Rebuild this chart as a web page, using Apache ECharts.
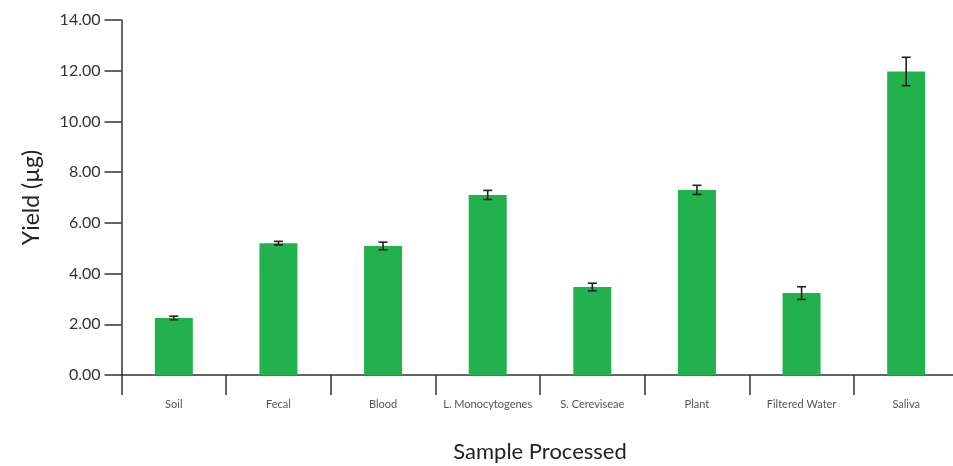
<!DOCTYPE html>
<html><head><meta charset="utf-8">
<script src="https://cdn.jsdelivr.net/npm/echarts@6/dist/echarts.min.js"></script>
<style>html,body{margin:0;padding:0;background:#fff}#c{width:953px;height:466px}</style>
</head><body><div id="c"></div>
<script>
const categories = ['Soil','Fecal','Blood','L. Monocytogenes','S. Cereviseae','Plant','Filtered Water','Saliva'];
const yieldValues = [2.25, 5.20, 5.09, 7.10, 3.47, 7.30, 3.23, 11.97];
const errorValues = [0.07, 0.07, 0.15, 0.18, 0.15, 0.18, 0.25, 0.56];
const yTicks = [0, 2, 4, 6, 8, 10, 12, 14];

const errData = categories.map((c, i) => [i, yieldValues[i] - errorValues[i], yieldValues[i] + errorValues[i]]);
const chart = echarts.init(document.getElementById('c'));
const font = 'Lato, "Noto Sans", sans-serif';
chart.setOption({
  animation: false,
  grid: { left: 121.5, width: 837, top: 20, height: 355, outerBoundsMode: 'none', containLabel: false },
  xAxis: {
    type: 'category', data: categories,
    name: 'Sample Processed', nameLocation: 'middle', nameGap: 66,
    nameTextStyle: { fontSize: 22, color: '#222', fontFamily: font },
    axisLine: { lineStyle: { color: '#333', width: 1.5 } },
    axisTick: { show: true, length: 20, alignWithLabel: false, lineStyle: { color: '#333', width: 1.5 } },
    axisLabel: { fontSize: 11, color: '#555', margin: 24, fontFamily: font, interval: 0 }
  },
  yAxis: {
    type: 'value', min: yTicks[0], max: yTicks[yTicks.length - 1], interval: 2,
    name: 'Yield (µg)', nameLocation: 'middle', nameGap: 78,
    nameTextStyle: { fontSize: 23, color: '#222', fontFamily: font },
    axisLine: { show: true, lineStyle: { color: '#333', width: 1.5 } },
    axisTick: { show: true, length: 17, lineStyle: { color: '#333', width: 1.5 } },
    splitLine: { show: false },
    axisLabel: { fontSize: 16, color: '#333', margin: 21, fontFamily: font, formatter: v => v.toFixed(2) }
  },
  series: [
    { type: 'bar', data: yieldValues, barWidth: 38, itemStyle: { color: '#23b14d' }, z: 2 },
    {
      type: 'custom', data: errData, z: 3,
      renderItem: (params, api) => {
        const lo = api.coord([api.value(0), api.value(1)]);
        const hi = api.coord([api.value(0), api.value(2)]);
        const w = 4.5;
        const style = { stroke: '#222', lineWidth: 1.6, fill: null };
        return { type: 'group', children: [
          { type: 'line', shape: { x1: lo[0], y1: lo[1], x2: hi[0], y2: hi[1] }, style },
          { type: 'line', shape: { x1: lo[0] - w, y1: lo[1], x2: lo[0] + w, y2: lo[1] }, style },
          { type: 'line', shape: { x1: hi[0] - w, y1: hi[1], x2: hi[0] + w, y2: hi[1] }, style }
        ]};
      }
    }
  ]
});
</script></body></html>
